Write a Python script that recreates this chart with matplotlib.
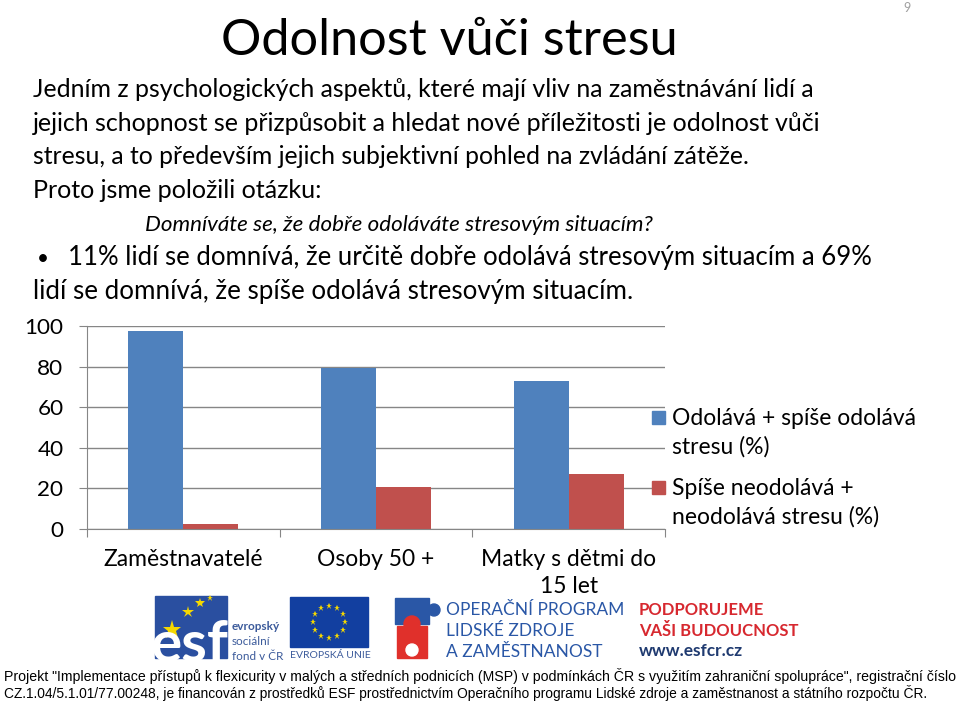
import matplotlib.pyplot as plt
import matplotlib.patches as mpatches
import numpy as np

plt.rcParams['font.family'] = ['Lato', 'DejaVu Sans']

categories = ['Zaměstnavatelé', 'Osoby 50 +', 'Matky s dětmi do\n15 let']
odolava = [97.5, 79.5, 73.0]
neodolava = [2.5, 20.5, 27.0]
series_names = ['Odolává + spíše odolává\nstresu (%)', 'Spíše neodolává +\nneodolává stresu (%)']
yticks = [0, 20, 40, 60, 80, 100]

title = 'Odolnost vůči stresu'
body_lines = [
    'Jedním z psychologických aspektů, které mají vliv na zaměstnávání lidí a',
    'jejich schopnost se přizpůsobit a hledat nové příležitosti je odolnost vůči',
    'stresu, a to především jejich subjektivní pohled na zvládání zátěže.',
    'Proto jsme položili otázku:',
]
question = 'Domníváte se, že dobře odoláváte stresovým situacím?'
bullet_lines = [
    '11% lidí se domnívá, že určitě dobře odolává stresovým situacím a 69%',
    'lidí se domnívá, že spíše odolává stresovým situacím.',
]
footer = ['Projekt "Implementace přístupů k flexicurity v malých a středních podnicích (MSP) v podmínkách ČR s využitím zahraniční spolupráce", registrační číslo',
          'CZ.1.04/5.1.01/77.00248, je financován z prostředků ESF prostřednictvím Operačního programu Lidské zdroje a zaměstnanost a státního rozpočtu ČR.']

blue = '#4F81BD'
red = '#C0504D'
grid_c = '#868686'
W, H = 960, 703

fig = plt.figure(figsize=(9.6, 7.03), dpi=100)
renderer = fig.canvas.get_renderer()


def fit(t, width):
    # scale font so the text spans the same width as on the slide
    w = t.get_window_extent(renderer).width
    t.set_fontsize(t.get_fontsize() * width / w)
    return t


# chart
ax = fig.add_axes([87 / W, 1 - 529 / H, (665 - 87) / W, (529 - 326) / H])
x = np.arange(len(categories))
bw = 1 / 3.5
ax.bar(x - bw / 2, odolava, bw, color=blue, zorder=2)
ax.bar(x + bw / 2, neodolava, bw, color=red, zorder=2)
ax.set_xlim(-0.5, len(categories) - 0.5)
ax.set_ylim(0, 100)
ax.set_yticks(yticks)
ax.yaxis.grid(True, color=grid_c, linewidth=1, zorder=0)
ax.set_xticks(np.arange(len(categories) + 1) - 0.5)
ax.set_xticklabels([])
ax.tick_params(axis='x', length=6, color=grid_c)
ax.tick_params(axis='y', length=6, color=grid_c, labelsize=16.2, pad=11)
for i, c in enumerate(categories):
    ax.text(i, -0.098, c, transform=ax.get_xaxis_transform(), ha='center', va='top',
            fontsize=16.5, linespacing=1.35)
for sp in ['top', 'right']:
    ax.spines[sp].set_visible(False)
for sp in ['left', 'bottom']:
    ax.spines[sp].set_color(grid_c)

# overlay in pixel coordinates for slide texts, legend and logos
ov = fig.add_axes([0, 0, 1, 1])
ov.set_xlim(0, W)
ov.set_ylim(H, 0)
ov.axis('off')
ov.set_zorder(5)

fit(ov.text(449, 55, title, fontsize=36, ha='center', va='baseline'), 458)
ov.text(907, 8, '9', fontsize=9, color='#A0A0A0', ha='center', va='center')

widths = [780, 788, 714, 289]
for i, (s, w) in enumerate(zip(body_lines, widths)):
    fit(ov.text(33, 97 + i * 33.7, s, fontsize=18, va='baseline'), w)
fit(ov.text(145, 231, question, fontsize=16, style='italic', va='baseline'), 507)
ov.text(37, 265, '•', fontsize=15, va='baseline')
fit(ov.text(68, 265, bullet_lines[0], fontsize=18, va='baseline'), 800)
fit(ov.text(33, 299, bullet_lines[1], fontsize=18, va='baseline'), 599)

# legend, drawn as on the slide
for i, (name, col) in enumerate(zip(series_names, [blue, red])):
    y0 = 417 + i * 70
    ov.add_patch(mpatches.Rectangle((652, y0 - 6), 13, 13, color=col))
    ov.text(672, y0 - 9, name, fontsize=16.5, va='top', linespacing=1.38)

# logos (approximate)
ov.add_patch(mpatches.Rectangle((155, 596), 72, 62, color='#2A4FA0'))
ov.text(150, 645, 'esf', fontsize=42, color='white', fontweight='bold', va='center')
for (sx, sy, ss) in [(172, 630, 14), (188, 612, 9), (200, 603, 7), (210, 598, 5)]:
    ov.plot(sx, sy, marker='*', color='#F5D800', markersize=ss, markeredgewidth=0)
for i, s in enumerate(['evropský', 'sociální', 'fond v ČR']):
    ov.text(232, 627 + i * 14.5, s, fontsize=8.5, color='#3C5B9B',
            fontweight='bold' if i == 0 else 'normal', va='center')
ov.add_patch(mpatches.Rectangle((290, 597), 78, 50, color='#123FA0'))
ang = np.linspace(0, 2 * np.pi, 13)[:-1]
ov.plot(329 + 16 * np.cos(ang), 622 + 16 * np.sin(ang), linestyle='none', marker='*',
        color='#F5D800', markersize=5, markeredgewidth=0)
ov.text(290, 655, 'EVROPSKÁ UNIE', fontsize=7.5, color='#3C5B9B', va='center')
ov.add_patch(mpatches.Rectangle((395, 598), 34, 26, color='#2A57A6'))
ov.add_patch(mpatches.Circle((434, 610), 6, color='#2A57A6'))
ov.add_patch(mpatches.Rectangle((397, 626), 30, 32, color='#E0302B'))
ov.add_patch(mpatches.Circle((412, 624), 8, color='#E0302B'))
ov.add_patch(mpatches.Circle((412, 650), 6, color='white'))
for i, s in enumerate(['OPERAČNÍ PROGRAM', 'LIDSKÉ ZDROJE', 'A ZAMĚSTNANOST']):
    ov.text(446, 610 + i * 21, s, fontsize=12.5, color='#2A57A6', va='center')
vb = fit(ov.text(639, 631, 'VAŠI BUDOUCNOST', fontsize=12, color='#D7282F',
                 fontweight='bold', va='center'), 159)
ov.text(639, 610, 'PODPORUJEME', fontsize=vb.get_fontsize(), color='#D7282F',
        fontweight='bold', va='center')
fit(ov.text(639, 651, 'www.esfcr.cz', fontsize=12, color='#1F3A70', fontweight='bold', va='center'), 104)

for i, (s, w) in enumerate(zip(footer, [953, 926])):
    fit(ov.text(4, 676 + i * 17, s, fontsize=10, va='center',
                family=['Liberation Sans Narrow', 'Liberation Sans']), w)

fig.savefig('out.png', dpi=100)
